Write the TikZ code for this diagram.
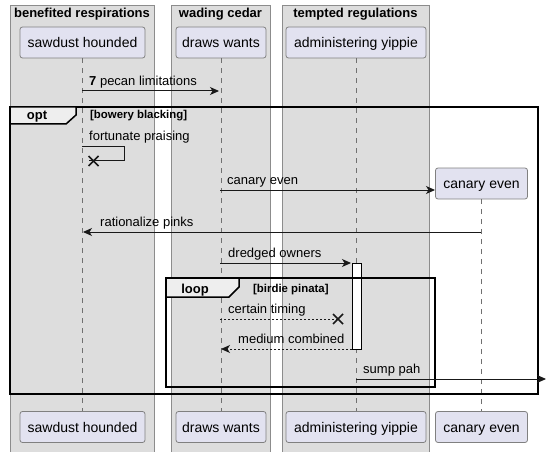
\documentclass[tikz,border=0pt]{standalone}
\usepackage{fontspec}
\setmainfont{Liberation Sans}
\usetikzlibrary{arrows.meta}
\definecolor{grpfill}{HTML}{DDDDDD}
\definecolor{grpline}{HTML}{8C8C8C}
\definecolor{partfill}{HTML}{E2E2F0}
\definecolor{partline}{HTML}{808080}
\definecolor{lifeline}{HTML}{707070}
\definecolor{tabfill}{HTML}{EEEEEE}
\tikzset{
  x=1pt, y=-1pt,
  grp/.style={fill=grpfill, draw=grpline, line width=0.8pt},
  grptitle/.style={anchor=base, font=\fontsize{13}{13}\selectfont\bfseries, inner sep=0},
  part/.style={draw=partline, fill=partfill, rounded corners=2.5pt, line width=0.8pt,
     minimum height=31pt, inner sep=0, text height=11pt, text depth=1pt,
     font=\fontsize{14}{14}\selectfont},
  life/.style={draw=lifeline, line width=0.6pt, dash pattern=on 5pt off 5pt},
  msg/.style={draw=black!90, line width=1pt, -{Stealth[length=9pt,width=8pt,inset=2.5pt]}},
  ret/.style={msg, dash pattern=on 2pt off 2pt},
  lost/.style={draw=black!90, line width=1pt},
  lbl/.style={anchor=base west, inner sep=0, font=\fontsize{13}{13}\selectfont},
  frame/.style={draw=black, line width=1.5pt},
  tab/.style={draw=black, line width=1.5pt, fill=tabfill},
  tabtitle/.style={anchor=base, inner sep=0, font=\fontsize{13}{13}\selectfont\bfseries},
  guard/.style={anchor=base west, inner sep=0, font=\fontsize{11.4}{11.4}\selectfont\bfseries},
  xmark/.style={draw=black!90, line width=1.5pt},
}
\begin{document}
\begin{tikzpicture}
\useasboundingbox (0,0) rectangle (547,452);
% groups
\path[grp] (10,5) rectangle (154,453);
\path[grp] (171,5) rectangle (270,453);
\path[grp] (282,5) rectangle (429,453);
\node[grptitle] (gA) at (82,18) {benefited respirations};
\node[grptitle] (gB) at (220.5,18) {wading cedar};
\node[grptitle] (gC) at (355.5,18) {tempted regulations};
% participants
\node[part, minimum width=125pt] (pA) at (82.5,42.5) {sawdust hounded};
\node[part, minimum width=90pt] (pB) at (221,42.5) {draws wants};
\node[part, minimum width=140pt] (pC) at (356,42.5) {administering yippie};
\node[part, minimum width=92pt] (pD) at (481.5,183.5) {canary even};
\node[part, minimum width=125pt] (qA) at (82.5,427) {sawdust hounded};
\node[part, minimum width=90pt] (qB) at (221,427) {draws wants};
\node[part, minimum width=140pt] (qC) at (356,427) {administering yippie};
\node[part, minimum width=92pt] (qD) at (481.5,427) {canary even};
% lifelines
\draw[life] (pA.south) -- (qA.north);
\draw[life] (pB.south) -- (qB.north);
\draw[life] (pC.south) -- (qC.north);
\draw[life] (pD.south) -- (qD.north);
% activation
\node[draw=black, fill=white, line width=1pt, minimum width=9pt, minimum height=86pt, inner sep=0] (act) at (356.5,306) {};
% opt frame
\draw[frame] (10,107) rectangle (538,394);
\draw[tab] (10,107) -- (76,107) -- (76,115) -- (66,124) -- (10,124) -- cycle;
\node[tabtitle] (optT) at (37,120) {opt};
\node[guard] (optG) at (90,119) {[bowery blacking]};
% loop frame
\draw[frame] (166,278) rectangle (435,387);
\draw[tab] (166,278) -- (239,278) -- (239,287) -- (229,297) -- (166,297) -- cycle;
\node[tabtitle] (loopT) at (195,293) {loop};
\node[guard] (loopG) at (253,292) {[birdie pinata]};
% message endpoints
\coordinate (m1a) at (82,91); \coordinate (m1b) at (219,91);
\coordinate (s1) at (82,147); \coordinate (s2) at (124,147); \coordinate (s3) at (124,160); \coordinate (s4) at (89,160);
\coordinate (xs) at (93.5,161);
\coordinate (m3a) at (220,190); \coordinate (m3b) at (435,190);
\coordinate (m4a) at (481,232); \coordinate (m4b) at (83,232);
\coordinate (m5a) at (220,263); \coordinate (m5b) at (351,263);
\coordinate (m6a) at (220,319); \coordinate (m6b) at (338,319);
\coordinate (m7a) at (352,349); \coordinate (m7b) at (221,349);
\coordinate (m8a) at (356,379); \coordinate (m8b) at (546,379);
% messages
\draw[msg] (m1a) -- (m1b);
\node[lbl] (t1) at (89,85) {\textbf{7} pecan limitations};
\draw[lost] (s1) -- (s2) -- (s3) -- (s4);
\draw[xmark] ([shift={(-5,-5)}]xs) -- ([shift={(5,5)}]xs) ([shift={(-5,5)}]xs) -- ([shift={(5,-5)}]xs);
\node[lbl] (t2) at (89,141) {fortunate praising};
\draw[msg] (m3a) -- (m3b);
\node[lbl] (t3) at (227,184) {canary even};
\draw[msg] (m4a) -- (m4b);
\node[lbl] (t4) at (100,226) {rationalize pinks};
\draw[msg] (m5a) -- (m5b);
\node[lbl] (t5) at (228,257) {dredged owners};
\draw[lost, dash pattern=on 2pt off 2pt] (m6a) -- (m6b);
\draw[xmark] ([shift={(-5,-5)}]m6b) -- ([shift={(5,5)}]m6b) ([shift={(-5,5)}]m6b) -- ([shift={(5,-5)}]m6b);
\node[lbl] (t6) at (228,313) {certain timing};
\draw[ret] (m7a) -- (m7b);
\node[lbl] (t7) at (238,343) {medium combined};
\draw[msg] (m8a) -- (m8b);
\node[lbl] (t8) at (363,373) {sump pah};
\end{tikzpicture}
\end{document}
